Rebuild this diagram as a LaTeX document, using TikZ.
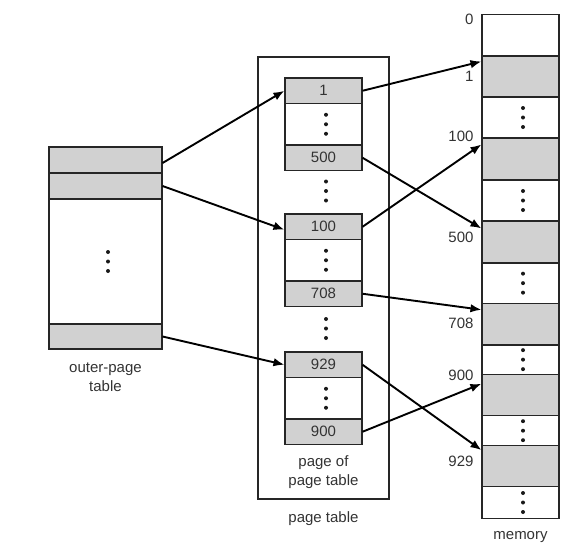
\documentclass[tikz,border=0pt]{standalone}
\usepackage{fontspec}
\setmainfont{Liberation Sans}
\usetikzlibrary{arrows.meta}

\tikzset{
  cell/.style={draw=black!85,line width=1.1pt,minimum width=77pt,inner sep=0pt,
    font=\fontsize{15}{17}\selectfont,text=black!80},
  full/.style={cell,fill=black!18},
  empty/.style={cell,fill=white},
  ptr/.style={line width=1.9pt,-{Latex[length=11pt,width=8.5pt]}},
  lbl/.style={font=\fontsize{15}{19}\selectfont,text=black!80,align=center}
}

% three dots under one another
\newcommand\dotcol[1]{\foreach \d in {-9.5,0,9.5}
  {\fill[black!90] ([xshift=2.5pt,yshift=\d pt]#1) circle[radius=2pt];}}

\begin{document}
\begin{tikzpicture}[x=1pt,y=-1pt]
\useasboundingbox (0,0) rectangle (571,560);

% outer-page table
\node[full,minimum width=113pt,minimum height=26pt] (o1) at (105.5,160) {};
\node[full,minimum width=113pt,minimum height=26pt] (o2) at (105.5,186) {};
\node[empty,minimum width=113pt,minimum height=125pt] (o3) at (105.5,261.5) {};
\node[full,minimum width=113pt,minimum height=25pt] (o4) at (105.5,336.5) {};
\node[lbl] (olbl) at (105.5,377) {outer-page\\table};

% page table
\node[draw=black!85,line width=1.1pt,minimum width=131pt,minimum height=442pt] (pt) at (323.5,278) {};
\node[full,minimum height=25.5pt] (p1) at (323.5,90.75) {1};
\node[empty,minimum height=41.5pt] (w1) at (323.5,124.25) {};
\node[full,minimum height=25.5pt] (p500) at (323.5,157.75) {500};
\node[full,minimum height=25.5pt] (p100) at (323.5,226.75) {100};
\node[empty,minimum height=41.5pt] (w2) at (323.5,260.25) {};
\node[full,minimum height=25.5pt] (p708) at (323.5,293.75) {708};
\node[full,minimum height=25.5pt] (p929) at (323.5,364.75) {929};
\node[empty,minimum height=41.5pt] (w3) at (323.5,398.25) {};
\node[full,minimum height=25.5pt] (p900) at (323.5,431.75) {900};
\coordinate (gap1) at (323.5,191);
\coordinate (gap2) at (323.5,328.5);
\node[lbl] (pplbl) at (323.5,472) {page of\\page table};
\node[lbl] (ptlbl) at (323.5,519) {page table};

% memory
\foreach \n/\t/\h/\s in {0/14.7/41.3/empty, 1/56/41/full, a/97/41/empty,
    100/138/42/full, b/180/41/empty, 500/221/42/full, c/263/40.3/empty,
    708/303.3/41.7/full, d/345/29.3/empty, 900/374.3/41.4/full,
    e/415.7/30/empty, 929/445.7/41/full, f/486.7/31.6/empty}
  {\node[\s,minimum height=\h pt] (m\n) at (520.5,\t+\h/2) {};}
\foreach \v/\y in {0/19,1/76,100/136,500/237,708/323,900/375,929/461}
  {\node[lbl,anchor=east] (a\v) at (477,\y) {\v};}
\node[lbl] (mlbl) at (520.5,537) {memory};

% pointers
\draw[ptr] ([yshift=-3pt]o1.east) -- (p1.west);
\draw[ptr] (o2.east) -- ([yshift=-3pt]p100.west);
\draw[ptr] (o4.east) -- (p929.west);
\draw[ptr] (p1.east) -- ([yshift=-6pt]m1.north west);
\draw[ptr] (p500.east) -- ([yshift=-8pt]m500.north west);
\draw[ptr] (p100.east) -- ([yshift=-7pt]m100.north west);
\draw[ptr] (p708.east) -- ([yshift=-7pt]m708.north west);
\draw[ptr] (p929.east) -- ([yshift=-5pt]m929.north west);
\draw[ptr] (p900.east) -- ([yshift=-10pt]m900.north west);

% dots
\foreach \c in {o3,w1,w2,w3,gap1,gap2,ma,mb,mc,md,me,mf}
  {\dotcol{\c.center}}

\end{tikzpicture}
\end{document}
